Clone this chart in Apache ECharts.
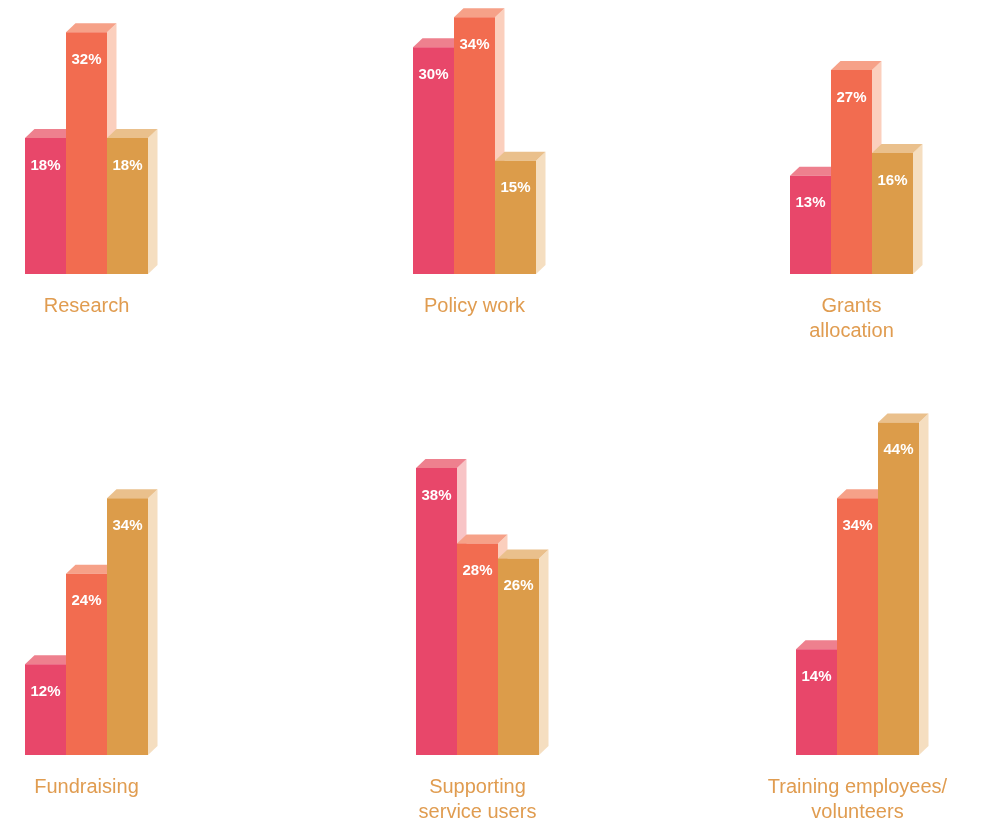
<!DOCTYPE html>
<html>
<head>
<meta charset="utf-8">
<script src="https://cdn.jsdelivr.net/npm/echarts@6/dist/echarts.min.js"></script>
<style>
  html, body { margin: 0; padding: 0; background: #ffffff; }
  #chart { width: 983px; height: 823px; }
</style>
</head>
<body>
<div id="chart"></div>
<script>
// Panels: one small 3-bar chart per activity
const panelTitles = [
  'Research',
  'Policy work',
  'Grants\nallocation',
  'Fundraising',
  'Supporting\nservice users',
  'Training employees/\nvolunteers'
];
const seriesNames = ['Group 1', 'Group 2', 'Group 3'];

// Percentages per panel, in bar order (pink, orange, gold)
const research = [18, 32, 18];
const policyWork = [30, 34, 15];
const grantsAllocation = [13, 27, 16];
const fundraising = [12, 24, 34];
const supportingServiceUsers = [38, 28, 26];
const trainingEmployees = [14, 34, 44];
const panelValues = [research, policyWork, grantsAllocation, fundraising, supportingServiceUsers, trainingEmployees];

// Face colours for each bar: front, top, side
const faceColors = [
  { front: '#E8476A', top: '#EE808E', side: '#F8C4C6' },
  { front: '#F26C50', top: '#F6A188', side: '#FBCFBD' },
  { front: '#DC9C4A', top: '#EAC08C', side: '#F5DEC0' }
];

const PX_PER_UNIT = 7.555;
const DEPTH_X = 9.5;
const DEPTH_Y = 9;
const BAR_W = 41;

// Panel placement: left edge of the first bar and baseline y, plus axis max per row
const panelLeft = [25, 413, 790, 25, 416, 796];
const rowBase = [274, 274, 274, 755, 755, 755];
const rowMax = [36, 36, 36, 44, 44, 44];

function renderBar(params, api) {
  const idx = api.value(0);
  const v = api.value(1);
  const topPt = api.coord([idx, v]);
  const basePt = api.coord([idx, 0]);
  const w = api.size([1, 0])[0];
  const x0 = topPt[0] - w / 2, x1 = topPt[0] + w / 2;
  const yT = topPt[1], yB = basePt[1];
  const c = faceColors[idx];
  return {
    type: 'group',
    children: [
      {
        type: 'polygon',
        shape: { points: [[x1, yT], [x1 + DEPTH_X, yT - DEPTH_Y], [x1 + DEPTH_X, yB - DEPTH_Y], [x1, yB]] },
        style: { fill: c.side }
      },
      {
        type: 'polygon',
        shape: { points: [[x0, yT], [x0 + DEPTH_X, yT - DEPTH_Y], [x1 + DEPTH_X, yT - DEPTH_Y], [x1, yT]] },
        style: { fill: c.top }
      },
      {
        type: 'rect',
        shape: { x: x0, y: yT, width: w, height: yB - yT },
        style: { fill: c.front }
      },
      {
        type: 'text',
        style: {
          text: v + '%',
          x: (x0 + x1) / 2,
          y: yT + 27.5,
          align: 'center',
          verticalAlign: 'middle',
          fill: '#ffffff',
          font: 'bold 15px "Liberation Sans", Arial, sans-serif'
        }
      }
    ]
  };
}

const grids = [], xAxes = [], yAxes = [], series = [], graphics = [];
panelValues.forEach((vals, p) => {
  const h = rowMax[p] * PX_PER_UNIT;
  grids.push({ left: panelLeft[p], top: rowBase[p] - h, width: BAR_W * 3, height: h, containLabel: false });
  xAxes.push({ type: 'category', gridIndex: p, data: seriesNames, show: false });
  yAxes.push({ type: 'value', gridIndex: p, min: 0, max: rowMax[p], show: false });
  series.push({
    type: 'custom',
    xAxisIndex: p,
    yAxisIndex: p,
    clip: false,
    renderItem: renderBar,
    data: vals.map((v, i) => [i, v])
  });
  graphics.push({
    type: 'text',
    x: panelLeft[p] + BAR_W * 1.5,
    y: rowBase[p] + 20,
    style: {
      text: panelTitles[p],
      align: 'center',
      verticalAlign: 'top',
      fill: '#E09C50',
      font: '20px "Liberation Sans", Arial, sans-serif',
      lineHeight: 25
    }
  });
});

const chart = echarts.init(document.getElementById('chart'), null, { renderer: 'canvas' });
chart.setOption({
  backgroundColor: '#ffffff',
  animation: false,
  grid: grids,
  xAxis: xAxes,
  yAxis: yAxes,
  series: series,
  graphic: graphics
});
</script>
</body>
</html>
